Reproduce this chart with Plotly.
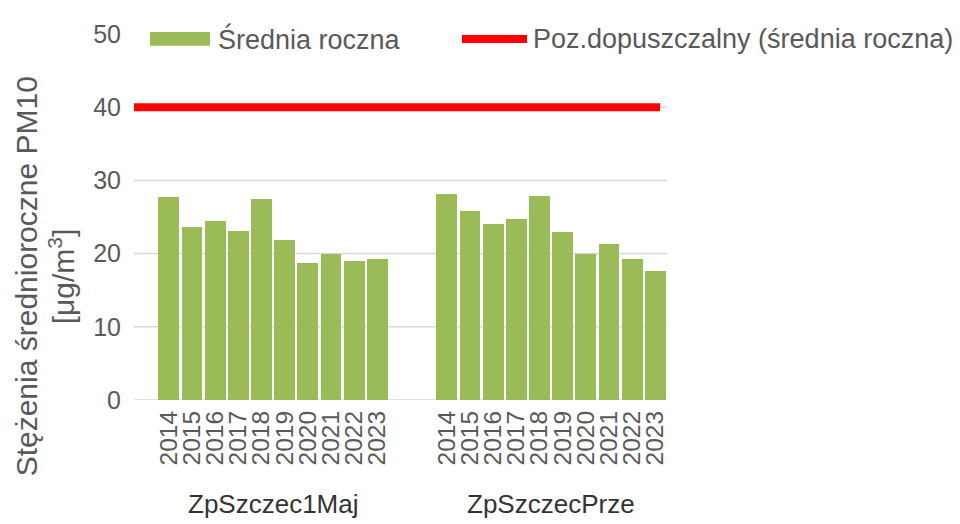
import plotly.graph_objects as go

# ---- data ----
stations = ["ZpSzczec1Maj", "ZpSzczecPrze"]
years = ["2014", "2015", "2016", "2017", "2018", "2019", "2020", "2021", "2022", "2023"]
vals_1maj = [27.8, 23.6, 24.4, 23.1, 27.4, 21.8, 18.7, 19.9, 19.0, 19.3]
vals_prze = [28.1, 25.8, 24.1, 24.7, 27.9, 22.9, 20.0, 21.3, 19.2, 17.6]
limit_value = 40
y_ticks = [0, 10, 20, 30, 40, 50]
grid_vals = [0, 10, 20, 30, 40]

series_name = "Średnia roczna"
limit_name = "Poz.dopuszczalny (średnia roczna)"
y_title_1 = "Stężenia średnioroczne PM10"
y_title_2 = "[μg/m<sup>3</sup>]"

# ---- layout geometry (window pixels) ----
WIN_W, WIN_H = 960, 524
OFF = 8  # default page body margin
W, H = WIN_W - OFF, WIN_H - OFF
L, R, T, B = 134, 667, 30, 400
PW, PH = R - L, B - T

def px(x):
    return (x - L) / PW

def py(y):
    return (B - y) / PH

GREEN = "#9BBB59"
RED = "#FF0000"
GREY = "#595959"
FONT = "Liberation Sans, Arial, sans-serif"

# category slots: one empty slot before group 1, two between groups
pos1 = [1 + i for i in range(len(years))]
pos2 = [pos1[-1] + 3 + i for i in range(len(years))]
x_range = [-0.5, pos2[-1] + 0.5]

fig = go.Figure()
fig.add_trace(go.Bar(x=pos1 + pos2, y=vals_1maj + vals_prze, width=0.9,
                     marker=dict(color=GREEN, line=dict(width=0)),
                     name=series_name, showlegend=False))
lim_x = [x_range[0], pos2[-1] + 0.2]
fig.add_trace(go.Scatter(x=lim_x, y=[limit_value] * len(lim_x), mode="lines",
                         line=dict(color=RED, width=8), name=limit_name,
                         showlegend=False))

shapes = []
for g in grid_vals:
    shapes.append(dict(type="line", xref="paper", yref="y", x0=0, x1=1, y0=g, y1=g,
                       line=dict(color="#D9D9D9", width=1.5), layer="below"))
# custom legend
shapes.append(dict(type="rect", xref="paper", yref="paper",
                   x0=px(150), x1=px(210), y0=py(42), y1=py(28),
                   fillcolor=GREEN, line=dict(width=0)))
shapes.append(dict(type="line", xref="paper", yref="paper",
                   x0=px(462), x1=px(527), y0=py(35), y1=py(35),
                   line=dict(color=RED, width=8)))

annotations = [
    dict(text=series_name, xref="paper", yref="paper", x=px(216), y=py(35),
         xanchor="left", yanchor="middle", showarrow=False,
         font=dict(size=27, color=GREY, family=FONT)),
    dict(text=limit_name, xref="paper", yref="paper", x=px(531), y=py(35),
         xanchor="left", yanchor="middle", showarrow=False,
         font=dict(size=27, color=GREY, family=FONT)),
    dict(text=y_title_1, xref="paper", yref="paper", x=px(26), y=py(275),
         xanchor="center", yanchor="middle", textangle=-90, showarrow=False,
         font=dict(size=30, color=GREY, family=FONT)),
    dict(text=y_title_2, xref="paper", yref="paper", x=px(62), y=py(275),
         xanchor="center", yanchor="middle", textangle=-90, showarrow=False,
         font=dict(size=30, color=GREY, family=FONT)),
]
for name, pos in zip(stations, [pos1, pos2]):
    annotations.append(dict(text=name, xref="x", yref="paper",
                            x=sum(pos) / len(pos), y=py(505),
                            xanchor="center", yanchor="middle", showarrow=False,
                            font=dict(size=26, color="#333333", family=FONT)))

fig.update_layout(
    width=W, height=H,
    margin=dict(l=L - OFF, r=WIN_W - R, t=T - OFF, b=WIN_H - B, pad=0),
    paper_bgcolor="white", plot_bgcolor="white",
    showlegend=False,
    bargap=0,
    shapes=shapes,
    annotations=annotations,
    xaxis=dict(range=x_range, tickmode="array", tickvals=pos1 + pos2,
               ticktext=years + years, tickangle=-90, showgrid=False,
               zeroline=False, showline=False, ticks="",
               tickfont=dict(size=24.5, color=GREY, family=FONT),
               ticklabelstandoff=5, fixedrange=True),
    yaxis=dict(range=[0, 50], tickmode="array", tickvals=y_ticks,
               showgrid=False, zeroline=False, showline=False, ticks="",
               tickfont=dict(size=25, color=GREY, family=FONT),
               ticklabelstandoff=12, fixedrange=True),
)

fig.write_html("out.html", config=dict(displayModeBar=False))
